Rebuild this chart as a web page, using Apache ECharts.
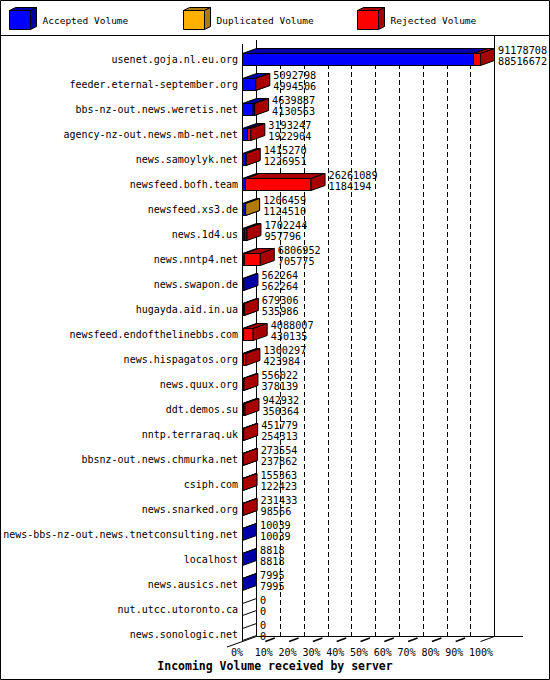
<!DOCTYPE html>
<html><head><meta charset="utf-8">
<script src="https://cdn.jsdelivr.net/npm/echarts@6/dist/echarts.min.js"></script>
<style>html,body{margin:0;padding:0;background:#fff}#c{width:550px;height:680px}</style>
</head><body><div id="c"></div>
<script>
// ---- data ----
const categories = [
  'usenet.goja.nl.eu.org','feeder.eternal-september.org','bbs-nz-out.news.weretis.net',
  'agency-nz-out.news.mb-net.net','news.samoylyk.net','newsfeed.bofh.team','newsfeed.xs3.de',
  'news.1d4.us','news.nntp4.net','news.swapon.de','hugayda.aid.in.ua','newsfeed.endofthelinebbs.com',
  'news.hispagatos.org','news.quux.org','ddt.demos.su','nntp.terraraq.uk','bbsnz-out.news.chmurka.net',
  'csiph.com','news.snarked.org','news-bbs-nz-out.news.tnetconsulting.net','localhost',
  'news.ausics.net','nut.utcc.utoronto.ca','news.sonologic.net'];
const totalVolume = [91178708,5092798,4639887,3193247,1415270,26261089,1206459,1702244,6806952,562264,679306,4088007,1300297,556022,942932,451779,273554,155363,231433,10039,8818,7995,0,0];
const acceptedVolume = [88516672,4994506,4130563,1922904,1226951,1184194,1124510,957796,705775,562264,535986,430135,423984,378139,350364,254313,237862,122423,98566,10039,8818,7995,0,0];
const duplicatedVolume = [0,0,0,0,0,0,81949,0,0,0,0,0,0,0,0,0,0,0,0,0,0,0,0,0];
const rejectedVolume = [2662036,98292,509324,1270343,188319,25076895,0,744448,6101177,0,143320,3657872,876313,177883,592568,197466,35692,32940,132867,0,0,0,0,0];
const seriesNames = ['Accepted Volume','Duplicated Volume','Rejected Volume'];
const xTicks = [0,10,20,30,40,50,60,70,80,90,100];
const axisTitle = 'Incoming Volume received by server';

// ---- styles ----
const FRONT = ['#0000FF','#FFB000','#FF0000'];
const DARK  = ['#0000A8','#B07A0C','#A80000'];
const DX = 14, DY = 5, HALF = 6;
const MONO = '"DejaVu Sans Mono", "Liberation Mono", monospace';

const maxVol = Math.max(...totalVolume);
const pct = v => v / maxVol * 100;
const n = categories.length;

const segData = [[],[],[]];
categories.forEach((c, i) => {
  const a = acceptedVolume[i], d = duplicatedVolume[i], r = rejectedVolume[i];
  segData[0].push([0, pct(a), i]);
  segData[1].push([pct(a), pct(a + d), i]);
  segData[2].push([pct(a + d), pct(a + d + r), i]);
});
const labelData = categories.map((c, i) => [pct(totalVolume[i]), i]);

const ST = {stroke:'#000', lineWidth:1};
function boxRenderer(k) {
  return function (params, api) {
    const a = api.coord([api.value(0), api.value(2)]);
    const b = api.coord([api.value(1), api.value(2)]);
    if (!(b[0] - a[0] > 0)) return null;
    const x0 = a[0], x1 = b[0], yt = a[1] - HALF, yb = a[1] + HALF;
    return {type:'group', children:[
      {type:'rect', shape:{x:x0, y:yt, width:x1 - x0, height:yb - yt}, style:Object.assign({fill:FRONT[k]}, ST)},
      {type:'polygon', shape:{points:[[x0,yt],[x0+DX,yt-DY],[x1+DX,yt-DY],[x1,yt]]}, style:Object.assign({fill:DARK[k]}, ST)},
      {type:'polygon', shape:{points:[[x1,yt],[x1+DX,yt-DY],[x1+DX,yb-DY],[x1,yb]]}, style:Object.assign({fill:DARK[k]}, ST)}
    ]};
  };
}

function frameRenderer(params, api) {
  const top = api.coord([0, 0]);
  const bot = api.coord([0, n - 1]);
  const full = api.coord([100, n - 1]);
  const x0 = top[0], xf = full[0];
  const floorY = bot[1] + 7;
  const L = (x1, y1, x2, y2, w) => ({type:'line', shape:{x1, y1, x2, y2}, style:{stroke:'#000', lineWidth:w || 1}});
  const ch = [];
  // back wall edges
  ch.push(L(x0 + DX, top[1] - 19.5, x0 + DX, floorY - DY));
  ch.push(L(xf + DX, top[1] - 23.5, xf + DX, floorY - DY));
  // front axis line
  ch.push(L(x0, top[1] - 15.5, x0, floorY));
  // floor
  ch.push(L(x0 - 15.5, floorY + 5.5, x0 + DX, floorY - DY));
  ch.push(L(x0 + DX, floorY - DY, xf + DX + 28.5, floorY - DY));
  ch.push(L(xf + DX, floorY - DY, xf, floorY));
  // floor ticks
  xTicks.slice(1, -1).forEach(t => {
    const p = api.coord([t, n - 1]);
    ch.push(L(p[0] - 1, floorY, p[0] + 8.5, floorY - 3.5, 1.5));
  });
  // empty rows
  categories.forEach((c, i) => {
    if (totalVolume[i] === 0) {
      const p = api.coord([0, i]);
      const yt = p[1] - HALF, yb = p[1] + HALF;
      ch.push({type:'polygon', shape:{points:[[p[0],yt],[p[0]+DX,yt-DY],[p[0]+DX,yb-DY],[p[0],yb]]}, style:{fill:'#fff', stroke:'#000', lineWidth:1}});
    }
  });
  return {type:'group', children:ch};
}

function labelRenderer(params, api) {
  const i = params.dataIndex;
  const p = api.coord([api.value(0), api.value(1)]);
  const x = p[0] + DX + 3.5;
  const font = '10.2px ' + MONO;
  return {type:'group', children:[
    {type:'text', style:{x:x, y:p[1] - 9, text:String(totalVolume[i]), font:font, fill:'#000', textVerticalAlign:'middle', verticalAlign:'middle'}},
    {type:'text', style:{x:x, y:p[1] + 2, text:String(acceptedVolume[i]), font:font, fill:'#000', textVerticalAlign:'middle', verticalAlign:'middle'}}
  ]};
}

// legend drawn as 3D cubes
const legendGraphics = [];
const legendX = [9.5, 183.5, 357.5];
seriesNames.forEach((name, k) => {
  const x = legendX[k], y = 10.5, w = 21, h = 19, dx = 6, dy = 3;
  legendGraphics.push({type:'rect', shape:{x, y, width:w, height:h}, style:{fill:FRONT[k], stroke:'#000', lineWidth:1}});
  legendGraphics.push({type:'polygon', shape:{points:[[x,y],[x+dx,y-dy],[x+w+dx,y-dy],[x+w,y]]}, style:{fill:DARK[k], stroke:'#000', lineWidth:1}});
  legendGraphics.push({type:'polygon', shape:{points:[[x+w,y],[x+w+dx,y-dy],[x+w+dx,y+h-dy],[x+w,y+h]]}, style:{fill:DARK[k], stroke:'#000', lineWidth:1}});
  legendGraphics.push({type:'text', style:{x:x + 33, y:20.5, text:name, font:'9.5px ' + MONO, fill:'#000', verticalAlign:'middle', textVerticalAlign:'middle'}});
});
legendGraphics.push({type:'line', shape:{x1:0, y1:35.5, x2:550, y2:35.5}, style:{stroke:'#000', lineWidth:1}});
legendGraphics.push({type:'rect', shape:{x:0.5, y:0.5, width:549, height:679}, style:{fill:'none', stroke:'#000', lineWidth:1}});

const chart = echarts.init(document.getElementById('c'), null, {renderer:'svg'});
chart.setOption({
  animation:false,
  backgroundColor:'#fff',
  title:{text:axisTitle, left:'center', top:660, padding:0,
    textStyle:{fontFamily:MONO, fontSize:11.5, fontWeight:'bold', color:'#000'}},
  legend:{show:false},
  graphic:legendGraphics,
  grid:[
    {left:242.5, top:47, width:238, height:600},
    {left:256.5, top:48, width:238, height:588.5},
    {left:231, top:47, width:238, height:600}
  ],
  xAxis:[
    {type:'value', gridIndex:0, min:0, max:100, interval:10, show:false},
    {type:'value', gridIndex:1, min:0, max:100, interval:10,
      axisLine:{show:false}, axisTick:{show:false}, axisLabel:{show:false},
      splitLine:{show:true, lineStyle:{color:'#000', width:1, type:[5,3]}}},
    {type:'value', gridIndex:2, min:0, max:100, interval:10,
      axisLine:{show:false}, axisTick:{show:false}, splitLine:{show:false},
      axisLabel:{show:true, align:'left', margin:0, formatter:'{value}%',
        fontFamily:MONO, fontSize:10, color:'#000'}}
  ],
  yAxis:[
    {type:'category', gridIndex:0, data:categories, inverse:true,
      axisLine:{show:false}, axisTick:{show:false}, splitLine:{show:false},
      axisLabel:{margin:4.5, fontFamily:MONO, fontSize:10, color:'#000'}},
    {type:'value', gridIndex:1, show:false},
    {type:'value', gridIndex:2, show:false}
  ],
  series:[
    {type:'custom', name:'frame', xAxisIndex:0, yAxisIndex:0, clip:false, silent:true,
      renderItem:frameRenderer, data:[[0,0]]},
    {type:'custom', name:seriesNames[0], xAxisIndex:0, yAxisIndex:0, clip:false,
      itemStyle:{color:FRONT[0]}, renderItem:boxRenderer(0), data:segData[0]},
    {type:'custom', name:seriesNames[1], xAxisIndex:0, yAxisIndex:0, clip:false,
      itemStyle:{color:FRONT[1]}, renderItem:boxRenderer(1), data:segData[1]},
    {type:'custom', name:seriesNames[2], xAxisIndex:0, yAxisIndex:0, clip:false,
      itemStyle:{color:FRONT[2]}, renderItem:boxRenderer(2), data:segData[2]},
    {type:'custom', name:'values', xAxisIndex:0, yAxisIndex:0, clip:false, silent:true,
      renderItem:labelRenderer, data:labelData}
  ]
});
</script>
</body></html>
